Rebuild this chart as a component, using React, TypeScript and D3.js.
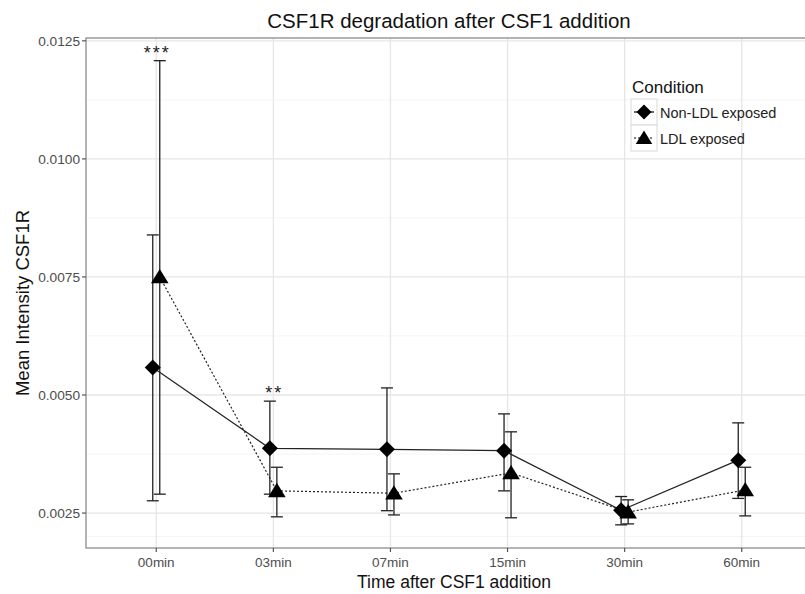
import React from "react";
import * as d3 from "d3";

// time points (x categories)
const times = ["00min", "03min", "07min", "15min", "30min", "60min"];

// Non-LDL exposed: mean, lower, upper
const nonMean = [0.00558, 0.00387, 0.00385, 0.00382, 0.00256, 0.00362];
const nonLow = [0.00276, 0.0029, 0.00255, 0.00297, 0.00225, 0.00281];
const nonHigh = [0.00839, 0.00487, 0.00515, 0.0046, 0.00285, 0.00441];

// LDL exposed: mean, lower, upper
const ldlMean = [0.0075, 0.00297, 0.00292, 0.00335, 0.00252, 0.00299];
const ldlLow = [0.0029, 0.00242, 0.00246, 0.0024, 0.00227, 0.00244];
const ldlHigh = [0.01208, 0.00347, 0.00333, 0.00422, 0.00278, 0.00347];

const yTicks = [0.0025, 0.005, 0.0075, 0.01, 0.0125];
const yTickLabels = ["0.0025", "0.0050", "0.0075", "0.0100", "0.0125"];

// significance marks
const sigTimes = ["00min", "03min"];
const sigLabels = ["***", "**"];
const sigValues = [0.01208, 0.00487];

const W = 805;
const H = 594;
const margin = { left: 86, top: 38, right: -7, bottom: 46 };
const font = "'Liberation Sans', Arial, sans-serif";

export default function App() {
  const x0 = margin.left;
  const x1 = W - margin.right;
  const y0 = H - margin.bottom;
  const y1 = margin.top;

  const x = d3.scalePoint().domain(times).range([x0, x1]).padding(0.6);
  const y = d3.scaleLinear().domain([0.00176, 0.01256]).range([y0, y1]);

  const minor = [0.00375, 0.00625, 0.00875, 0.01125, 0.002];
  const dodge = 3.5;

  const series = [
    { name: "Non-LDL exposed", mean: nonMean, low: nonLow, high: nonHigh, off: -dodge, dash: null },
    { name: "LDL exposed", mean: ldlMean, low: ldlLow, high: ldlHigh, off: dodge, dash: "2,2" },
  ];

  const diamond = (cx: number, cy: number, r: number) =>
    `M${cx},${cy - r}L${cx + r},${cy}L${cx},${cy + r}L${cx - r},${cy}Z`;
  const triangle = (cx: number, cy: number, r: number) =>
    `M${cx},${cy - r}L${cx + r * 1.1},${cy + r * 0.8}L${cx - r * 1.1},${cy + r * 0.8}Z`;

  const marker = (s: number, cx: number, cy: number, r: number) =>
    s === 0 ? diamond(cx, cy, r) : triangle(cx, cy, r);

  return (
    <svg width={W} height={H} style={{ position: "absolute", left: 0, top: 0, background: "#fff" }} fontFamily={font}>
      <rect x={0} y={0} width={W} height={H} fill="#fff" />
      {/* minor grid */}
      {minor.map((v, i) => (
        <line key={"mn" + i} x1={x0} x2={x1} y1={y(v)} y2={y(v)} stroke="#f4f4f4" strokeWidth={1} />
      ))}
      {/* major grid */}
      {yTicks.map((v, i) => (
        <line key={"mj" + i} x1={x0} x2={x1} y1={y(v)} y2={y(v)} stroke="#e6e6e6" strokeWidth={1.3} />
      ))}
      {times.map((t) => (
        <line key={"vg" + t} x1={x(t)} x2={x(t)} y1={y1} y2={y0} stroke="#e6e6e6" strokeWidth={1.3} />
      ))}
      {/* panel border */}
      <rect x={x0} y={y1} width={x1 - x0} height={y0 - y1} fill="none" stroke="#8c8c8c" strokeWidth={1.3} />

      {/* lines */}
      {series.map((s, si) => (
        <path
          key={"ln" + si}
          d={d3
            .line<number>()
            .x((d, i) => x(times[i])! + s.off)
            .y((d) => y(d))(s.mean) || ""}
          fill="none"
          stroke="#222"
          strokeWidth={1.2}
          strokeDasharray={s.dash || undefined}
        />
      ))}

      {/* error bars */}
      {series.map((s, si) =>
        times.map((t, i) => {
          const cx = x(t)! + s.off;
          return (
            <g key={"eb" + si + i} stroke="#222" strokeWidth={1.3}>
              <line x1={cx} x2={cx} y1={y(s.low[i])} y2={y(s.high[i])} />
              <line x1={cx - 6} x2={cx + 6} y1={y(s.low[i])} y2={y(s.low[i])} />
              <line x1={cx - 6} x2={cx + 6} y1={y(s.high[i])} y2={y(s.high[i])} />
            </g>
          );
        })
      )}

      {/* points */}
      {series.map((s, si) =>
        times.map((t, i) => (
          <path key={"pt" + si + i} d={marker(si, x(t)! + s.off, y(s.mean[i]), 8)} fill="#000" />
        ))
      )}

      {/* significance */}
      {sigTimes.map((t, i) => (
        <text
          key={"sg" + i}
          x={x(t)! + 1}
          y={y(sigValues[i]) - 2}
          textAnchor="middle"
          fontSize={18}
          letterSpacing={2}
          fill="#222"
        >
          {sigLabels[i]}
        </text>
      ))}

      {/* y axis ticks */}
      {yTicks.map((v, i) => (
        <g key={"yt" + i}>
          <line x1={x0 - 4} x2={x0} y1={y(v)} y2={y(v)} stroke="#555" strokeWidth={1.2} />
          <text x={x0 - 6} y={y(v) + 5} textAnchor="end" fontSize={13.7} fill="#4d4d4d">
            {yTickLabels[i]}
          </text>
        </g>
      ))}
      {/* x axis ticks */}
      {times.map((t) => (
        <g key={"xt" + t}>
          <line x1={x(t)} x2={x(t)} y1={y0} y2={y0 + 4} stroke="#555" strokeWidth={1.2} />
          <text x={x(t)} y={y0 + 19} textAnchor="middle" fontSize={13.5} fill="#4d4d4d">
            {t}
          </text>
        </g>
      ))}

      {/* titles */}
      <text x={449} y={28} textAnchor="middle" fontSize={20.5} fill="#111">
        CSF1R degradation after CSF1 addition
      </text>
      <text x={454} y={588} textAnchor="middle" fontSize={17.5} fill="#111">
        Time after CSF1 addition
      </text>
      <text transform={`translate(29,303) rotate(-90)`} textAnchor="middle" fontSize={18.5} fill="#111">
        Mean Intensity CSF1R
      </text>

      {/* legend */}
      <g>
        <text x={632} y={93} fontSize={17} fill="#111">
          Condition
        </text>
        {series.map((s, si) => (
          <g key={"lg" + si} transform={`translate(631,${99 + si * 26})`}>
            <rect x={0} y={0} width={26} height={26} fill="#fff" stroke="#d9d9d9" />
            <line x1={3} x2={23} y1={13} y2={13} stroke="#000" strokeWidth={1.2} strokeDasharray={s.dash || undefined} />
            <path d={marker(si, 13, 13, 7.5)} fill="#000" />
            <text x={29} y={19} fontSize={14.5} fill="#222">
              {s.name}
            </text>
          </g>
        ))}
      </g>
    </svg>
  );
}
